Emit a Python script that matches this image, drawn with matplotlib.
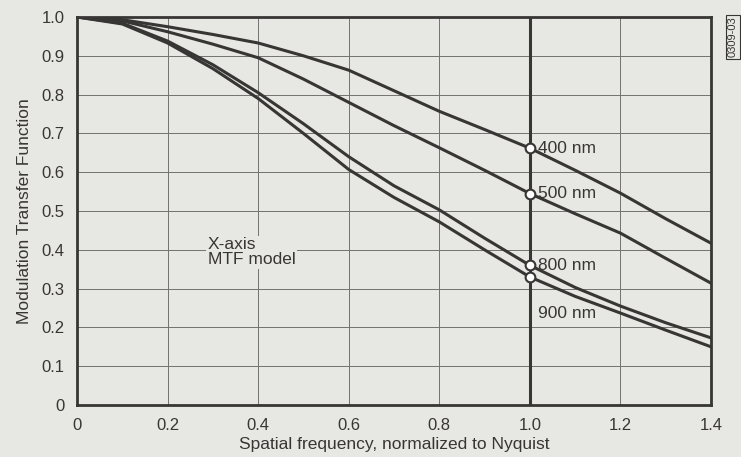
import matplotlib.pyplot as plt

plt.rcParams['font.family'] = ['Liberation Sans', 'DejaVu Sans']

# spatial frequency, normalized to Nyquist
freq = [0.0, 0.1, 0.2, 0.3, 0.4, 0.5, 0.6, 0.7, 0.8, 0.9, 1.0, 1.1, 1.2, 1.3, 1.4]

# MTF
mtf_400 = [1.0, 0.993, 0.975, 0.955, 0.933, 0.900, 0.863, 0.810, 0.757, 0.710, 0.662, 0.605, 0.546, 0.480, 0.417]
mtf_500 = [1.0, 0.990, 0.962, 0.930, 0.895, 0.840, 0.780, 0.720, 0.663, 0.605, 0.545, 0.493, 0.443, 0.378, 0.314]
mtf_800 = [1.0, 0.984, 0.938, 0.877, 0.805, 0.725, 0.640, 0.565, 0.503, 0.430, 0.360, 0.303, 0.255, 0.212, 0.173]
mtf_900 = [1.0, 0.982, 0.933, 0.867, 0.790, 0.700, 0.607, 0.535, 0.472, 0.400, 0.330, 0.280, 0.237, 0.193, 0.150]

labels = ["400 nm", "500 nm", "800 nm", "900 nm"]
label_y = [0.662, 0.545, 0.360, 0.237]

xticks = [0, 0.2, 0.4, 0.6, 0.8, 1.0, 1.2, 1.4]
xtick_labels = ["0", "0.2", "0.4", "0.6", "0.8", "1.0", "1.2", "1.4"]
yticks = [0, 0.1, 0.2, 0.3, 0.4, 0.5, 0.6, 0.7, 0.8, 0.9, 1.0]
ytick_labels = ["0", "0.1", "0.2", "0.3", "0.4", "0.5", "0.6", "0.7", "0.8", "0.9", "1.0"]

bg = "#e7e7e4"
ink = "#383634"

fig = plt.figure(figsize=(7.41, 4.57), dpi=100, facecolor=bg)
ax = fig.add_axes([77 / 741, 52 / 457, 634 / 741, 388 / 457])
ax.set_facecolor(bg)

ax.set_xlim(0, 1.4)
ax.set_ylim(0, 1.0)
ax.set_xticks(xticks)
ax.set_xticklabels(xtick_labels)
ax.set_yticks(yticks)
ax.set_yticklabels(ytick_labels)
ax.tick_params(length=0, labelsize=12, colors=ink, pad=9)
ax.grid(True, color="#747270", linewidth=0.7)
ax.set_axisbelow(True)
for s in ax.spines.values():
    s.set_color(ink)
    s.set_linewidth(2)

# Nyquist line
ax.axvline(1.0, color=ink, linewidth=2.2, zorder=2)

series = [mtf_400, mtf_500, mtf_800, mtf_900]
for vals in series:
    ax.plot(freq, vals, color=ink, linewidth=2.2, zorder=3)
    ax.plot([1.0], [vals[10]], marker="o", markersize=7, markerfacecolor="white",
            markeredgecolor=ink, markeredgewidth=1.5, zorder=4)

for lab, y in zip(labels, label_y):
    ax.text(1.018, y, lab, fontsize=12.5, color=ink, va="center", ha="left", zorder=5)

ax.text(0.289, 0.394, "X-axis\nMTF model", fontsize=12.5, color=ink, va="center", ha="left",
        linespacing=1.0, zorder=5, bbox=dict(facecolor=bg, edgecolor="none", pad=1))

ax.set_xlabel("Spatial frequency, normalized to Nyquist", fontsize=12.5, color=ink, labelpad=3)
ax.set_ylabel("Modulation Transfer Function", fontsize=12.5, color=ink, labelpad=7)

fig.text(733 / 741, 1 - 37 / 457, "0309-03", rotation=90, fontsize=8, color=ink,
         ha="center", va="center",
         bbox=dict(facecolor=bg, edgecolor=ink, linewidth=0.8, pad=1.5))

fig.savefig("out.png", dpi=100, facecolor=bg)
